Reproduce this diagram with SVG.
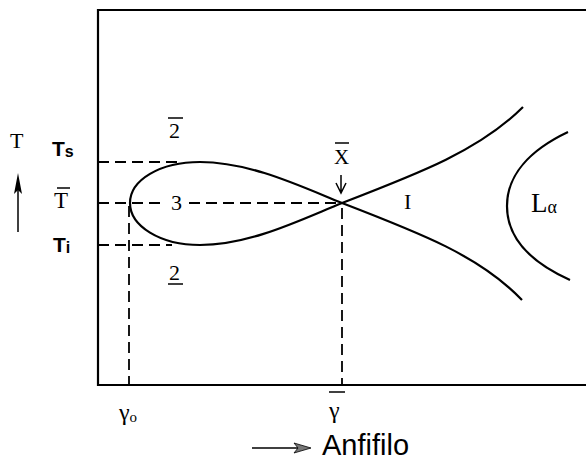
<svg xmlns="http://www.w3.org/2000/svg" width="586" height="475" viewBox="0 0 586 475">
<style>
.frame{fill:none;stroke:#000;stroke-width:2.2}
.curve{fill:none;stroke:#000;stroke-width:2.2}
.dash{fill:none;stroke:#000;stroke-width:1.8;stroke-dasharray:11 6}
.ser{font-family:"Liberation Serif","Times New Roman",serif;fill:#000}
.sans{font-family:"Liberation Sans",Arial,sans-serif;fill:#000}
.thin{fill:none;stroke:#000;stroke-width:1.5}
</style>
<rect width="586" height="475" fill="#fff"/>
<g id="frame">
<path class="frame" d="M586,10 H98 V385 H586"/>
</g>
<g id="connectors">
<path class="dash" d="M98,162 H178"/>
<path class="dash" d="M98,203 H166"/>
<path class="dash" d="M189,203 H342"/>
<path class="dash" d="M98,245 H172"/>
<path class="dash" d="M129,206 V385"/>
<path class="dash" d="M342,208 V385"/>
</g>
<g id="loop">
<path class="curve" d="M342,203 C300,186 250,162 200,162 C160,162 130,180 130,203 C130,226 160,245 200,245 C250,245 300,220 342,203"/>
</g>
<g id="branches">
<path class="curve" d="M342,203 C420,173 480,150 523,107"/>
<path class="curve" d="M342,203 C420,233 480,256 522,300"/>
</g>
<g id="lalpha">
<path class="curve" d="M568,132 C530,150 507,175 507,206 C507,237 530,262 570,280"/>
<text class="ser" x="531" y="212" font-size="27">L<tspan font-size="18" dy="1">α</tspan></text>
</g>
<g id="axis-T">
<text class="ser" x="10" y="148" font-size="22">T</text>
<path class="thin" d="M18,232 V188"/>
<path d="M18,173 L14,194 L18,190 L22,194 Z" fill="#000"/>
<text class="sans" x="52" y="156" font-size="21" font-weight="bold">T<tspan font-size="16" dy="1">s</tspan></text>
<text class="ser" x="54" y="208" font-size="23">T</text>
<path class="thin" d="M57,188 H70"/>
<text class="sans" x="53" y="252" font-size="21" font-weight="bold">T<tspan font-size="16" dy="1">i</tspan></text>
</g>
<g id="labels">
<text class="ser" x="169" y="138" font-size="22">2</text>
<path class="thin" d="M168,118 H183"/>
<text class="ser" x="171" y="210" font-size="22">3</text>
<text class="ser" x="169" y="280" font-size="22">2</text>
<path class="thin" d="M168,284 H183"/>
<text class="ser" x="334" y="164" font-size="21">X</text>
<path class="thin" d="M335,143 H349"/>
<path class="thin" d="M341,175 V192 M336,183 L341,193 L346,183"/>
<text class="ser" x="404" y="209" font-size="22">I</text>
</g>
<g id="axis-x">
<text class="ser" x="119" y="420" font-size="24">γ<tspan font-size="15" dy="2">o</tspan></text>
<text class="ser" x="329" y="418" font-size="24">γ</text>
<path class="thin" d="M329,392 H345"/>
<path class="thin" d="M252,448 H300" stroke-width="2"/>
<path d="M311,448 L294,443 L298,448 L294,453 Z" fill="#777" stroke="#000" stroke-width="0.8"/>
<text class="sans" x="322" y="455" font-size="29">Anfifilo</text>
</g>
</svg>
